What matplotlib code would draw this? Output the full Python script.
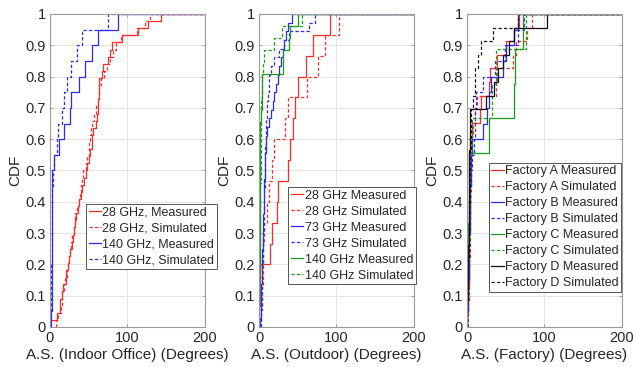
import numpy as np
import matplotlib
matplotlib.use("Agg")
import matplotlib.pyplot as plt
from matplotlib.ticker import FuncFormatter

plt.rcParams['font.family'] = ['Liberation Sans', 'DejaVu Sans']

# ---------------- data (sorted samples read from the CDF steps) ----------------
# Indoor office
in28_meas = [0.5, 9.5, 13, 13.5, 15, 17, 20.5, 21, 23, 25, 26, 28, 30, 31, 33, 34, 36, 38, 40, 42,
             44, 46, 48, 50, 52, 54, 55, 56, 60, 61, 62, 62.5, 63, 63.5, 64, 67, 68, 75, 78, 80,
             93, 114.5, 127.5, 143.5]
in28_sim = [8, 11, 14, 15.5, 16, 18, 20, 21.5, 23, 24.5, 26, 27.5, 29, 30.5, 32, 33, 35, 37, 38.5, 40,
            41, 43, 46, 48, 50, 51, 52, 53, 55, 57, 60, 62, 63, 64, 66, 70, 74, 78, 81, 86,
            92, 112, 123, 130]
in140_meas = [1.0, 2.0, 2.3, 2.5, 2.7, 2.8, 2.9, 3.0, 3.1, 3.2, 5.6, 11.7, 18, 26, 27.5, 37.6, 45, 55, 62, 88]
in140_sim = [0.3, 1.0, 1.5, 1.8, 2.0, 2.2, 2.4, 2.6, 3.0, 4.0, 5.6, 8.6, 11, 16, 17.5, 21.6, 27, 35, 42, 75]

# Outdoor
out28_meas = [0.5, 1.0, 1.5, 14.7, 16.4, 23, 25, 37.6, 40.6, 44, 47, 51, 61, 70, 92]
out28_sim = [2, 4, 5, 5.5, 6, 10.8, 13.4, 16.8, 19.4, 33.7, 38, 62, 76, 85, 104]
out73_meas = [1.5, 2, 2.4, 2.8, 3.1, 3.4, 3.7, 4.0, 4.3, 4.6, 5.0, 5.3, 5.6, 6.0, 6.3, 6.7, 7.0, 7.4,
              7.8, 8.2, 8.6, 9.0, 11, 13, 16, 18.5, 20, 22, 24, 26, 29, 31, 33, 35, 38, 42.5]
out73_sim = [2.5, 3.0, 3.3, 3.6, 3.9, 4.2, 4.5, 4.8, 5.0, 5.3, 5.6, 5.9, 6.2, 6.5, 6.8, 7.0, 7.3, 7.6,
             7.8, 8.0, 8.2, 8.5, 9, 9.5, 10, 11, 12, 13, 13.5, 15, 20, 26, 33, 39, 65, 72]
out140_meas = [0.2, 0.3, 0.4, 0.5, 0.6, 0.7, 0.8, 0.9, 1.0, 1.1, 1.2, 1.3, 1.4, 1.5, 1.6, 1.7, 1.8, 2.0,
               4.3, 4.3, 4.3, 30.7, 31, 39, 39.5, 50]
out140_sim = [0.3, 0.5, 0.7, 0.9, 1.0, 1.2, 1.4, 1.5, 1.6, 1.7, 1.8, 1.9, 2.0, 2.1, 2.2, 2.3, 2.4, 2.5,
              3, 3.5, 4.5, 5.5, 7, 20, 30, 56]

# Factory
fA_meas = [0.5, 1.0, 1.5, 2.0, 2.3, 2.6, 2.9, 3.1, 3.3, 3.5, 3.6, 3.7, 3.8, 4.0,
           6.5, 17, 17.5, 29, 29.5, 39, 50, 61, 67]
fA_sim = [1, 1.5, 2, 2.5, 3, 3.3, 3.6, 3.9, 4.2, 4.5, 4.8, 5.0, 5.3, 5.6,
          8, 10, 13, 38, 39, 60, 64, 78, 84]
fB_meas = [0.5, 1.0, 1.5, 2.0, 2.5, 3.0, 3.5, 4.0, 4.5, 5.2, 5.6, 6, 20.7, 26, 28, 30.7, 46.6, 51, 61, 66]
fB_sim = [0.5, 1.0, 1.5, 2.0, 2.5, 3.0, 3.5, 4.0, 4.5, 5.0, 7, 9, 10, 11, 12, 20.7, 36, 49, 66, 74]
fC_meas = [0.5, 1.0, 1.5, 2.0, 3.0, 28, 61, 61.5, 72]
fC_sim = [0.5, 1.0, 2.0, 3.0, 4.0, 7, 33, 37, 76]
fD_meas = [0.3, 0.6, 0.9, 1.2, 1.5, 1.8, 2.0, 2.2, 2.4, 2.6, 2.8, 3.0, 3.2, 3.4, 3.6,
           4.5, 24, 35, 40, 46.6, 55, 61, 104]
fD_sim = [0.3, 0.6, 1.0, 1.3, 1.6, 2.0, 2.3, 2.6, 3.0, 3.3, 3.6, 4.0, 4.3, 4.6, 5.0,
          5.6, 7.5, 10, 11, 14, 17.7, 34, 66]

indoor_labels = ["28 GHz, Measured", "28 GHz, Simulated", "140 GHz, Measured", "140 GHz, Simulated"]
outdoor_labels = ["28 GHz Measured", "28 GHz Simulated", "73 GHz Measured", "73 GHz Simulated",
                  "140 GHz Measured", "140 GHz Simulated"]
factory_labels = ["Factory A Measured", "Factory A Simulated", "Factory B Measured", "Factory B Simulated",
                  "Factory C Measured", "Factory C Simulated", "Factory D Measured", "Factory D Simulated"]
xlabels = ["A.S. (Indoor Office) (Degrees)", "A.S. (Outdoor) (Degrees)", "A.S. (Factory) (Degrees)"]

# ---------------- styling ----------------
RED, BLUE, GREEN, BLACK = '#ff2a2a', '#2a2aff', '#1a9a1a', '#111111'
DASH = (0, (2.6, 1.8))
XMAX = 200


def cdf_line(ax, samples, color, ls, label):
    s = np.sort(np.asarray(samples, dtype=float))
    n = len(s)
    xs = np.r_[s[0], s, XMAX]
    ys = np.r_[0.0, np.arange(1, n + 1) / n, 1.0]
    ax.step(xs, ys, where='post', color=color, linestyle=ls, linewidth=0.9, label=label)


fig = plt.figure(figsize=(6.36, 3.67), dpi=100)
lefts = [50 / 636, 259 / 636, 467 / 636]
bottom = 1 - 327 / 367
height = (327 - 14) / 367
width = 154.5 / 636

axes = [fig.add_axes([l, bottom, width, height]) for l in lefts]

panels = [
    [(in28_meas, RED, '-'), (in28_sim, RED, DASH), (in140_meas, BLUE, '-'), (in140_sim, BLUE, DASH)],
    [(out28_meas, RED, '-'), (out28_sim, RED, DASH), (out73_meas, BLUE, '-'), (out73_sim, BLUE, DASH),
     (out140_meas, GREEN, '-'), (out140_sim, GREEN, DASH)],
    [(fA_meas, RED, '-'), (fA_sim, RED, DASH), (fB_meas, BLUE, '-'), (fB_sim, BLUE, DASH),
     (fC_meas, GREEN, '-'), (fC_sim, GREEN, DASH), (fD_meas, BLACK, '-'), (fD_sim, BLACK, DASH)],
]
labels = [indoor_labels, outdoor_labels, factory_labels]
# legend anchor: upper-left corner in axes fraction
legend_anchor = [
    (0.234, 0.393),
    (0.19, 0.447),
    (0.142, 0.524),
]

for ax, series, labs, xl, la in zip(axes, panels, labels, xlabels, legend_anchor):
    for (data, c, ls), lab in zip(series, labs):
        cdf_line(ax, data, c, ls, lab)
    ax.set_xlim(0, XMAX)
    ax.set_ylim(0, 1)
    ax.set_xticks([0, 100, 200])
    ax.set_yticks(np.round(np.arange(0, 1.01, 0.1), 1))
    ax.yaxis.set_major_formatter(FuncFormatter(lambda v, p: '%g' % v))
    ax.grid(True, color='#e4e4e4', linewidth=0.7)
    ax.set_axisbelow(True)
    for sp in ax.spines.values():
        sp.set_color('#9a9a9a')
        sp.set_linewidth(0.8)
    ax.tick_params(direction='in', length=2.5, width=0.6, color='#9a9a9a',
                   labelsize=10.5, labelcolor='#262626', pad=3, top=True, right=True)
    ax.set_xlabel(xl, fontsize=11, color='#262626', labelpad=2)
    ax.set_ylabel('CDF', fontsize=11, color='#262626', labelpad=2)
    leg = ax.legend(loc='upper left', bbox_to_anchor=la, fontsize=9,
                    frameon=True, fancybox=False, edgecolor='#555555', framealpha=1,
                    borderpad=0.2, labelspacing=0.32, handlelength=1.0, handletextpad=0.1,
                    borderaxespad=0)
    leg.get_frame().set_linewidth(0.7)
    for t in leg.get_texts():
        t.set_color('#262626')

fig.savefig('out.png', dpi=100)
